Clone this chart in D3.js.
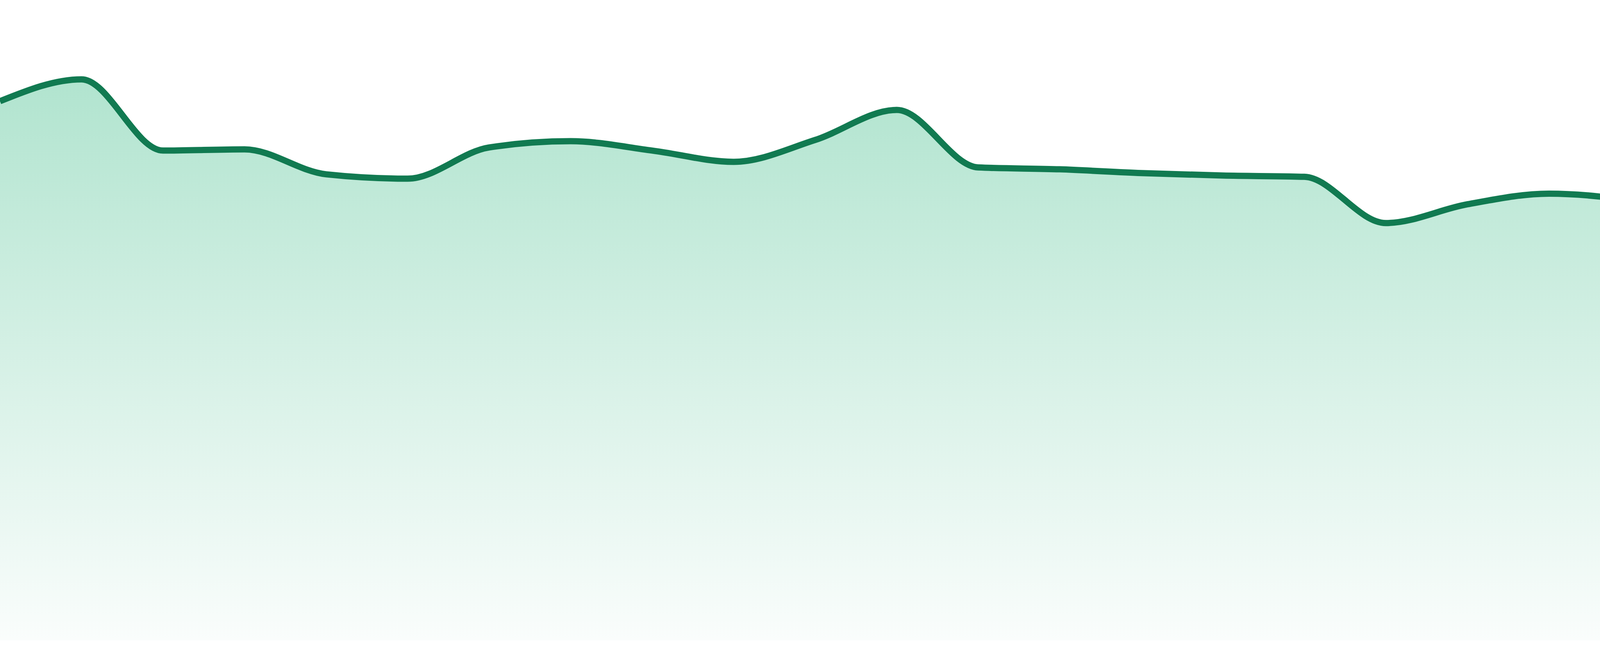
<!DOCTYPE html>
<html>
<head>
<meta charset="utf-8">
<script src="https://cdn.jsdelivr.net/npm/d3@7"></script>
<style>
    html, body { margin: 0; padding: 0; background: #ffffff; }
    svg { display: block; }
</style>
</head>
<body>
<svg id="chart"></svg>
<script>
// 24 evenly spaced periods, no axis labels are shown in the chart
const periods = ["P01", "P02", "P03", "P04", "P05", "P06", "P07", "P08",
                 "P09", "P10", "P11", "P12", "P13", "P14", "P15", "P16",
                 "P17", "P18", "P19", "P20", "P21", "P22", "P23", "P24"];

const values = [86.3, 89.8, 78.4, 78.6, 74.6, 73.9, 78.9, 79.9,
                78.4, 76.6, 80.1, 84.9, 75.7, 75.4, 74.8, 74.4,
                74.2, 66.8, 69.8, 71.5, 70.4, 67.5, 74.8, 71.3];

const yDomain = [0, 100];

const data = periods.map((p, i) => ({ label: p, value: values[i] }));

const width = 4800;
const height = 1680;
const margin = { top: 40, right: 0, bottom: 40, left: 0 };

const svg = d3.select("#chart")
    .attr("width", width)
    .attr("height", height);

const x = d3.scalePoint()
    .domain(periods)
    .range([margin.left, width - margin.right]);

const y = d3.scaleLinear()
    .domain(yDomain)
    .range([height - margin.bottom, margin.top]);

// Gradient under the line, mint at the top fading out at the baseline
const grad = svg.append("defs")
    .append("linearGradient")
    .attr("id", "fillGrad")
    .attr("gradientUnits", "userSpaceOnUse")
    .attr("x1", 0).attr("x2", 0)
    .attr("y1", y(d3.max(values)))
    .attr("y2", y(0));
grad.append("stop").attr("offset", "0%").attr("stop-color", "#b1e4cf");
grad.append("stop").attr("offset", "100%").attr("stop-color", "#fafdfc");

const area = d3.area()
    .x(d => x(d.label))
    .y0(y(0))
    .y1(d => y(d.value))
    .curve(d3.curveMonotoneX);

const line = d3.line()
    .x(d => x(d.label))
    .y(d => y(d.value))
    .curve(d3.curveMonotoneX);

svg.append("path")
    .datum(data)
    .attr("fill", "url(#fillGrad)")
    .attr("d", area);

svg.append("path")
    .datum(data)
    .attr("fill", "none")
    .attr("stroke", "#117a51")
    .attr("stroke-width", 16)
    .attr("stroke-linejoin", "round")
    .attr("d", line);
</script>
</body>
</html>
